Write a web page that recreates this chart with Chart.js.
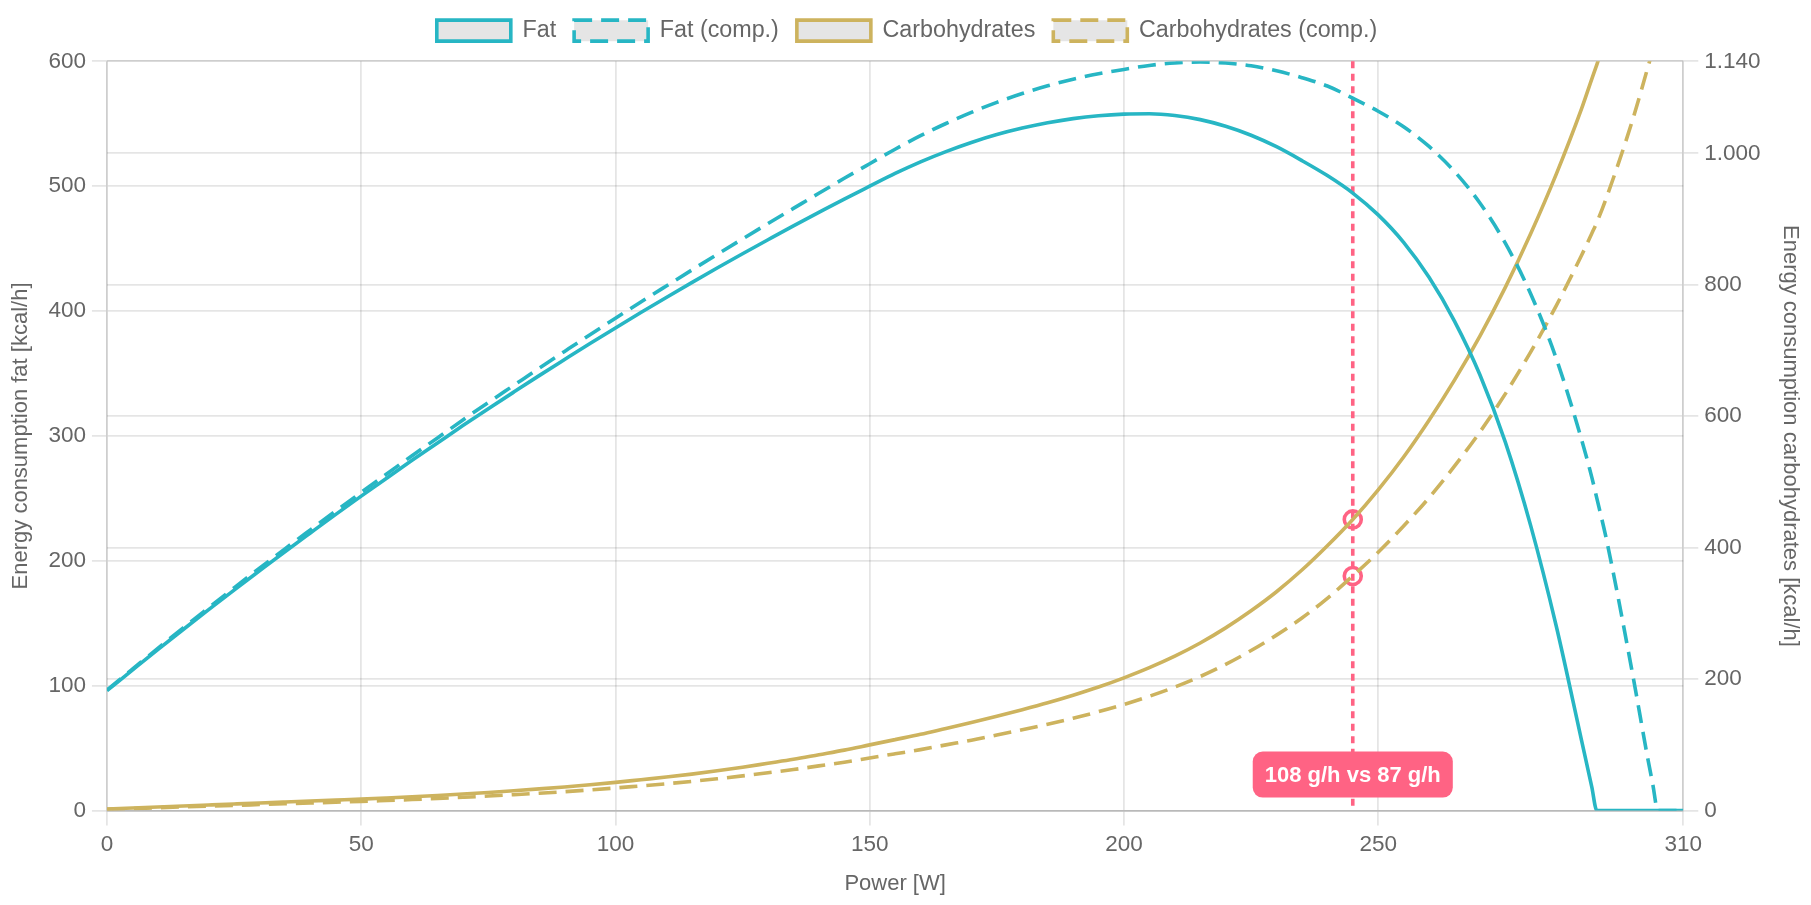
<!DOCTYPE html>
<html>
<head>
<meta charset="utf-8">
<title>Energy consumption</title>
<script src="https://cdn.jsdelivr.net/npm/chart.js@4.4.1/dist/chart.umd.min.js"></script>
<style>
    html, body { margin: 0; padding: 0; background: #fff; }
    #wrap { width: 1811px; height: 905px; }
</style>
</head>
<body>
<div id="wrap"><canvas id="energyChart"></canvas></div>
<script>
// --- DATOS ---
const powerW = [0, 5, 10, 15, 20, 25, 30, 35, 40, 45, 50, 55, 60, 65, 70, 75, 80, 85, 90, 95,
    100, 105, 110, 115, 120, 125, 130, 135, 140, 145, 150, 155, 160, 165, 170, 175, 180, 185, 190, 195,
    200, 205, 210, 215, 220, 225, 230, 235, 240, 245, 250, 255, 260, 265, 270, 275, 280, 285, 290,
    292, 293, 295, 300, 303, 304, 305, 310];

const fatKcal = [96, 112.5, 128.9, 145, 160.9, 176.6, 192, 207.3, 222.3, 237.2, 251.8, 266.2, 280.5, 294.4, 308.3, 321.8, 335.1, 348.3, 361.2, 374,
    386.5, 398.8, 410.9, 422.8, 434.5, 445.9, 457.1, 468.2, 479, 489.7, 500, 510.2, 519.5, 527.7, 535, 541.3, 546.5, 550.8, 554.1, 556.4,
    557.7, 558, 556.6, 553.3, 548, 540.8, 531.6, 520.5, 508.5, 494.5, 477, 455, 427, 392, 349, 295, 228, 148, 56,
    19, 0, 0, 0, 0, 0, 0, 0];

const fatCompKcal = [96.5, 113.2, 129.9, 146.3, 162.4, 178.4, 194.1, 209.6, 224.8, 239.9, 254.8, 269.5, 284.2, 298.4, 312.8, 326.8, 340.5, 354.2, 367.7, 381.1,
    394.2, 407.3, 420.1, 432.8, 445.4, 457.8, 470.1, 482.2, 494.3, 506.3, 518, 529.6, 540.4, 550.2, 559.1, 567.1, 574.2, 580.4, 585.7, 590.1,
    593.5, 596.7, 598.7, 599.4, 598.6, 596.4, 592.4, 586.9, 580.2, 570.5, 560, 547.6, 531.8, 511.8, 486.5, 454.4, 413.7, 362.2, 297,
    267, 250, 215, 110, 42, 21, 0, 0];

const carbKcal = [2.5, 4, 5.5, 7, 8.5, 10, 11.5, 13, 14.5, 16, 17.5, 19.2, 21, 23, 25.2, 27.6, 30.2, 33, 36, 39.3,
    43, 47, 51, 55.5, 60.5, 66, 72, 78, 85, 92, 100, 108, 116, 125, 134, 143.5, 153.5, 164, 175.5, 188,
    202, 217.5, 235, 255, 278, 304, 333, 366, 403, 443, 488, 538, 594, 655, 722, 796, 878, 968, 1068,
    1113, 1135, 1181, 1302, 1385, 1410, 1436, 1583];

const carbCompKcal = [2, 3.2, 4.4, 5.6, 6.8, 8, 9.2, 10.4, 11.6, 12.8, 14, 15.4, 16.8, 18.4, 20.2, 22.1, 24.2, 26.4, 28.8, 31.4,
    34.4, 37.6, 40.8, 44.4, 48.4, 52.8, 57.6, 62.4, 68, 73.6, 80, 86.4, 92.8, 100, 107, 115, 123, 131.5, 140.5, 150.5,
    161.5, 174, 188, 204, 222.5, 243.5, 267, 293, 323, 357, 393, 433, 476, 524, 576, 634, 698, 768, 845,
    878, 895, 935, 1050, 1130, 1157, 1185, 1335];

// marcador en 245 W
const markerPower = 245;
const markerCarbKcal = [443, 357];
const markerGrams = [108, 87];

const teal = '#27b6c4';
const gold = '#cdb35e';
const pink = '#ff6384';

function toPoints(values) {
    return powerW.map((p, i) => ({ x: p, y: values[i] }));
}

// un poco más de aire debajo de la leyenda
const legendSpace = {
    id: 'legendSpace',
    beforeInit(chart) {
        const originalFit = chart.legend.fit;
        chart.legend.fit = function fit() {
            originalFit.bind(chart.legend)();
            this.height += 9;
        };
    }
};

const markerPlugin = {
    id: 'markerLine',
    beforeDatasetsDraw(chart) {
        const { ctx, chartArea, scales } = chart;
        const x = scales.x.getPixelForValue(markerPower);
        ctx.save();
        ctx.strokeStyle = pink;
        ctx.lineWidth = 3.6;
        ctx.setLineDash([7, 5.5]);
        ctx.beginPath();
        ctx.moveTo(x, chartArea.top);
        ctx.lineTo(x, chartArea.bottom);
        ctx.stroke();
        ctx.restore();
    },
    afterDatasetsDraw(chart) {
        const { ctx, chartArea, scales } = chart;
        const x = scales.x.getPixelForValue(markerPower);
        const text = markerGrams[0] + ' g/h vs ' + markerGrams[1] + ' g/h';
        ctx.save();
        ctx.font = "bold 22px 'Liberation Sans', Arial, sans-serif";
        const w = ctx.measureText(text).width + 24;
        const h = 46;
        const bottom = chartArea.bottom - 13;
        ctx.fillStyle = pink;
        ctx.beginPath();
        ctx.roundRect(x - w / 2, bottom - h, w, h, 10);
        ctx.fill();
        ctx.fillStyle = '#fff';
        ctx.textAlign = 'center';
        ctx.textBaseline = 'middle';
        ctx.fillText(text, x, bottom - h / 2 + 1);
        ctx.restore();
    }
};

Chart.defaults.font.family = "'Liberation Sans', Arial, sans-serif";
Chart.defaults.font.size = 22.5;
Chart.defaults.color = '#666';

const gridStyle = { color: 'rgba(0,0,0,0.1)', lineWidth: 1.8, tickLength: 15 };

const ctx = document.getElementById('energyChart').getContext('2d');
new Chart(ctx, {
    type: 'line',
    data: {
        datasets: [
            {
                label: 'Fat', data: toPoints(fatKcal), yAxisID: 'y',
                borderColor: teal, backgroundColor: 'rgba(0,0,0,0.1)', borderWidth: 3.6,
                pointRadius: 0, cubicInterpolationMode: 'monotone'
            },
            {
                label: 'Fat (comp.)', data: toPoints(fatCompKcal), yAxisID: 'y',
                borderColor: teal, backgroundColor: 'rgba(0,0,0,0.1)', borderWidth: 3.6,
                borderDash: [18, 9], pointRadius: 0, cubicInterpolationMode: 'monotone'
            },
            {
                label: 'Carbohydrates', data: toPoints(carbKcal), yAxisID: 'y1',
                borderColor: gold, backgroundColor: 'rgba(0,0,0,0.1)', borderWidth: 3.6,
                pointRadius: 0, cubicInterpolationMode: 'monotone'
            },
            {
                label: 'Carbohydrates (comp.)', data: toPoints(carbCompKcal), yAxisID: 'y1',
                borderColor: gold, backgroundColor: 'rgba(0,0,0,0.1)', borderWidth: 3.6,
                borderDash: [18, 9], pointRadius: 0, cubicInterpolationMode: 'monotone'
            },
            {
                label: 'marker', type: 'scatter', yAxisID: 'y1',
                data: markerCarbKcal.map(v => ({ x: markerPower, y: v })),
                pointRadius: 8.5, pointBorderWidth: 3.6, pointBorderColor: pink,
                pointBackgroundColor: 'rgba(0,0,0,0)', showLine: false
            }
        ]
    },
    options: {
        responsive: true,
        maintainAspectRatio: false,
        animation: false,
        layout: { padding: { left: 4, right: 1, top: 1, bottom: 4 } },
        plugins: {
            legend: {
                position: 'top',
                labels: {
                    boxWidth: 74,
                    boxHeight: 21,
                    padding: 18,
                    font: { size: 23.3 },
                    filter: item => item.text !== 'marker'
                }
            },
            tooltip: { enabled: false }
        },
        scales: {
            x: {
                type: 'linear', min: 0, max: 310,
                ticks: { stepSize: 50, padding: 6 },
                grid: gridStyle,
                border: { color: 'rgba(0,0,0,0.1)', width: 1.8 },
                title: { display: true, text: 'Power [W]', font: { size: 22 }, padding: { top: 6, bottom: 4 } }
            },
            y: {
                position: 'left', min: 0, max: 600,
                ticks: { stepSize: 100, padding: 6 },
                grid: gridStyle,
                border: { color: 'rgba(0,0,0,0.1)', width: 1.8 },
                title: { display: true, text: 'Energy consumption fat [kcal/h]', font: { size: 22 }, padding: { top: 4, bottom: 8 } }
            },
            y1: {
                position: 'right', min: 0, max: 1140,
                ticks: { stepSize: 200, padding: 6, callback: v => v.toLocaleString('de-DE') },
                grid: gridStyle,
                border: { color: 'rgba(0,0,0,0.1)', width: 1.8 },
                title: { display: true, text: 'Energy consumption carbohydrates [kcal/h]', font: { size: 22 }, padding: { top: 7, bottom: 10 } }
            }
        }
    },
    plugins: [legendSpace, markerPlugin]
});
</script>
</body>
</html>
